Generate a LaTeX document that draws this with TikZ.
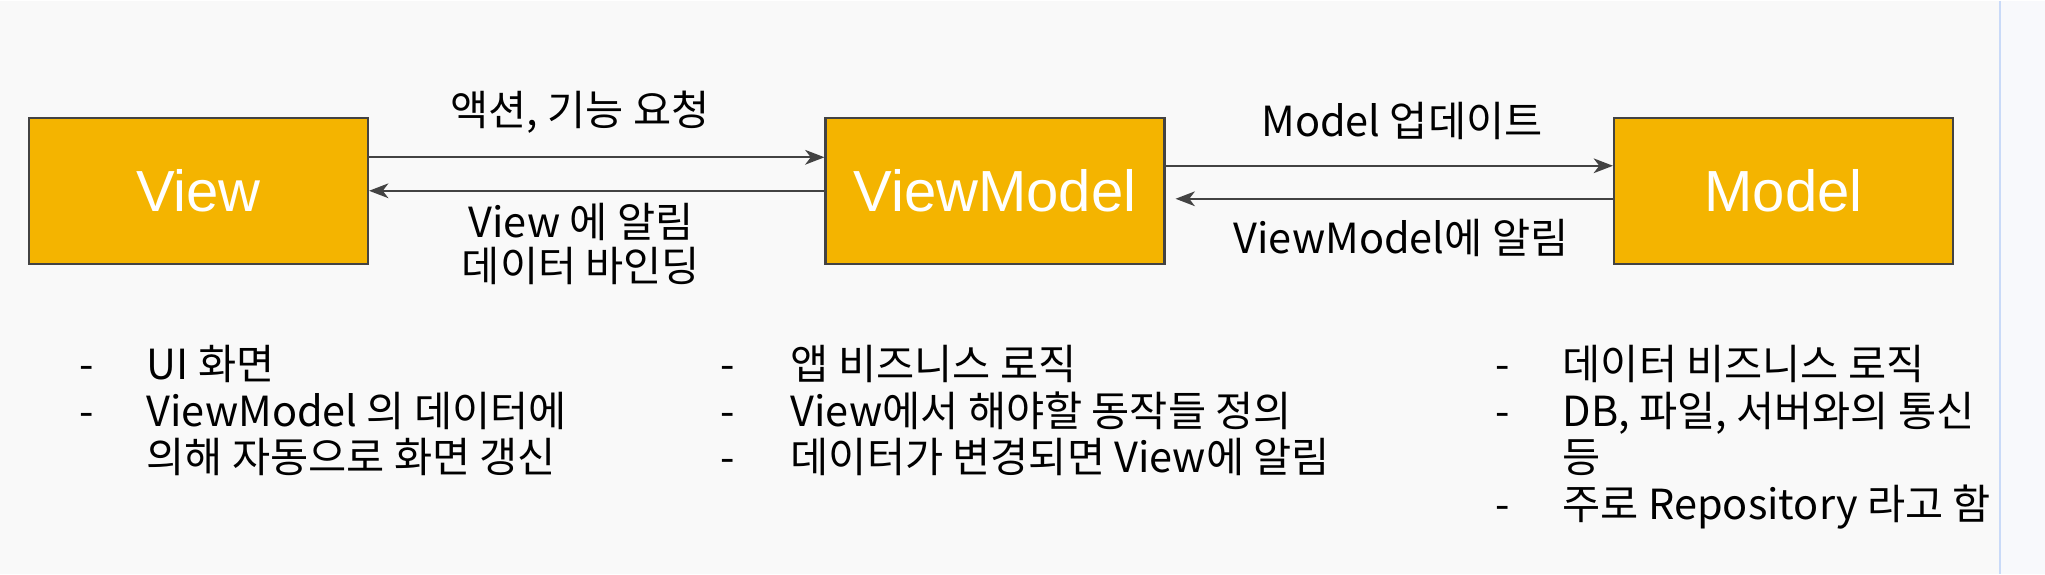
\documentclass[tikz,border=0pt]{standalone}
\usepackage{fontspec}
\setmainfont{Liberation Sans}
\newfontfamily\kr{Noto Sans CJK KR}
\definecolor{gyellow}{HTML}{F4B400}
\definecolor{ink}{HTML}{434343}
\definecolor{paper}{HTML}{F9F9F9}
\definecolor{paperr}{HTML}{F8F9FC}
\definecolor{rulebl}{HTML}{C9DAF8}
\usetikzlibrary{arrows.meta, positioning}

\tikzset{
  box/.style={draw=ink, line width=0.6pt, fill=gyellow, minimum width=3.39cm, minimum height=1.46cm, inner sep=0pt, text=white, font=\fontsize{16.5}{20}\selectfont},
  flow/.style={ink, line width=0.5pt, -{Stealth[length=5.5pt, width=4.2pt, inset=1.6pt]}},
  lbl/.style={font=\kr\fontsize{11.8}{12.3}\selectfont, inner sep=0pt, align=center},
  item/.style={font=\kr\fontsize{11.8}{13.25}\selectfont, inner sep=0pt, anchor=base west},
  itemdash/.style={font=\kr\fontsize{11.8}{13.25}\selectfont, inner sep=0pt, anchor=base},
}

\begin{document}
\begin{tikzpicture}
% Background and right margin rule
\fill[paper] (0, 0) rectangle (20.0, -5.73);
\fill[paperr] (20.0, 0) rectangle (20.45, -5.73);
\draw[rulebl, line width=0.45pt] (20.0, 0) -- (20.0, -5.73);

% Layers
\node[box] (view) at (1.985, -1.90) {View};
\node[box] (vm) at (9.95, -1.90) {ViewModel};
\node[box] (model) at (17.835, -1.90) {Model};

% View <-> ViewModel
\draw[flow] ([yshift=3.35mm]view.east) -- ([yshift=3.35mm]vm.west);
\draw[flow] (vm.west) -- (view.east);
\node[lbl] (reqlbl) at (5.80, -1.11) {액션, 기능 요청};
\node[lbl] (bindlbl) at (5.81, -2.435) {View 에 알림\\[0.1mm]데이터 바인딩};

% ViewModel <-> Model
\draw[flow] ([yshift=2.5mm]vm.east) -- ([yshift=2.5mm]model.west);
\draw[flow, shorten >=1mm] ([yshift=-0.8mm]model.west) -- ([yshift=-0.8mm]vm.east);
\node[lbl] (updlbl) at (14.02, -1.20) {Model 업데이트};
\node[lbl] (vmnotelbl) at (14.01, -2.37) {ViewModel에 알림};

% View notes
\node[itemdash] (vd1) at (0.87, -3.79) {-};
\node[item] (vt1) at (1.46, -3.79) {UI 화면};
\node[itemdash] (vd2) at (0.87, -4.255) {-};
\node[item] (vt2) at (1.46, -4.255) {ViewModel 의 데이터에};
\node[item] (vt2b) at (1.46, -4.72) {의해 자동으로 화면 갱신};

% ViewModel notes
\node[itemdash] (md1) at (7.28, -3.79) {-};
\node[item] (mt1) at (7.90, -3.79) {앱 비즈니스 로직};
\node[itemdash] (md2) at (7.28, -4.255) {-};
\node[item] (mt2) at (7.90, -4.255) {View에서 해야할 동작들 정의};
\node[itemdash] (md3) at (7.28, -4.72) {-};
\node[item] (mt3) at (7.90, -4.72) {데이터가 변경되면 View에 알림};

% Model notes
\node[itemdash] (rd1) at (15.03, -3.79) {-};
\node[item] (rt1) at (15.62, -3.79) {데이터 비즈니스 로직};
\node[itemdash] (rd2) at (15.03, -4.255) {-};
\node[item] (rt2) at (15.62, -4.255) {DB, 파일, 서버와의 통신};
\node[item] (rt2b) at (15.62, -4.72) {등};
\node[itemdash] (rd3) at (15.03, -5.185) {-};
\node[item] (rt3) at (15.62, -5.185) {주로 Repository 라고 함};

\end{tikzpicture}
\end{document}
